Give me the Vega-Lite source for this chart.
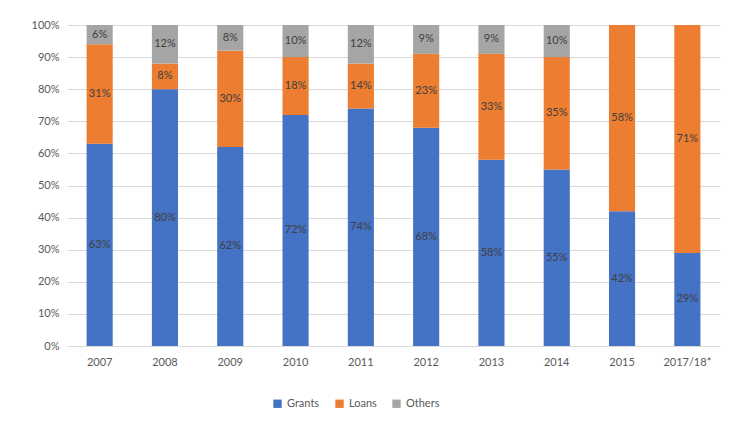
{
  "$schema": "https://vega.github.io/schema/vega-lite/v6.json",
  "width": 653,
  "height": 321,
  "autosize": {"type": "none"},
  "padding": {"left": 67, "top": 25, "right": 10, "bottom": 84},
  "background": "white",
  "config": {
    "font": "Lato",
    "view": {"stroke": null},
    "axis": {"labelFont": "Lato", "labelColor": "#595959", "labelFontSize": 11}
  },
  "data": {
    "values": [
      {"year": "2007", "type": "Grants", "value": 0.63, "ord": 1},
      {"year": "2007", "type": "Loans", "value": 0.31, "ord": 2},
      {"year": "2007", "type": "Others", "value": 0.06, "ord": 3},
      {"year": "2008", "type": "Grants", "value": 0.80, "ord": 1},
      {"year": "2008", "type": "Loans", "value": 0.08, "ord": 2},
      {"year": "2008", "type": "Others", "value": 0.12, "ord": 3},
      {"year": "2009", "type": "Grants", "value": 0.62, "ord": 1},
      {"year": "2009", "type": "Loans", "value": 0.30, "ord": 2},
      {"year": "2009", "type": "Others", "value": 0.08, "ord": 3},
      {"year": "2010", "type": "Grants", "value": 0.72, "ord": 1},
      {"year": "2010", "type": "Loans", "value": 0.18, "ord": 2},
      {"year": "2010", "type": "Others", "value": 0.10, "ord": 3},
      {"year": "2011", "type": "Grants", "value": 0.74, "ord": 1},
      {"year": "2011", "type": "Loans", "value": 0.14, "ord": 2},
      {"year": "2011", "type": "Others", "value": 0.12, "ord": 3},
      {"year": "2012", "type": "Grants", "value": 0.68, "ord": 1},
      {"year": "2012", "type": "Loans", "value": 0.23, "ord": 2},
      {"year": "2012", "type": "Others", "value": 0.09, "ord": 3},
      {"year": "2013", "type": "Grants", "value": 0.58, "ord": 1},
      {"year": "2013", "type": "Loans", "value": 0.33, "ord": 2},
      {"year": "2013", "type": "Others", "value": 0.09, "ord": 3},
      {"year": "2014", "type": "Grants", "value": 0.55, "ord": 1},
      {"year": "2014", "type": "Loans", "value": 0.35, "ord": 2},
      {"year": "2014", "type": "Others", "value": 0.10, "ord": 3},
      {"year": "2015", "type": "Grants", "value": 0.42, "ord": 1},
      {"year": "2015", "type": "Loans", "value": 0.58, "ord": 2},
      {"year": "2017/18*", "type": "Grants", "value": 0.29, "ord": 1},
      {"year": "2017/18*", "type": "Loans", "value": 0.71, "ord": 2}
    ]
  },
  "transform": [
    {"stack": "value", "groupby": ["year"], "sort": [{"field": "ord", "order": "ascending"}], "as": ["y0", "y1"]},
    {"calculate": "(datum.y0 + datum.y1) / 2", "as": "ymid"}
  ],
  "encoding": {
    "x": {
      "field": "year", "type": "nominal", "sort": null,
      "scale": {"paddingInner": 0.6, "paddingOuter": 0.3},
      "axis": {"title": null, "labelAngle": 0, "ticks": false, "domainColor": "#D9D9D9", "labelPadding": 10}
    }
  },
  "layer": [
    {
      "mark": {"type": "bar"},
      "encoding": {
        "y": {
          "field": "y0", "type": "quantitative",
          "scale": {"domain": [0, 1], "nice": false},
          "axis": {"title": null, "format": ".0%", "values": [0,0.1,0.2,0.3,0.4,0.5,0.6,0.7,0.8,0.9,1], "labelOverlap": false, "domain": false, "ticks": false, "gridColor": "#D9D9D9", "labelPadding": 8}
        },
        "y2": {"field": "y1"},
        "color": {
          "field": "type", "type": "nominal",
          "scale": {"domain": ["Grants", "Loans", "Others"], "range": ["#4472C4", "#ED7D31", "#A5A5A5"]},
          "legend": {
            "title": null, "orient": "none", "direction": "horizontal",
            "legendX": 205, "legendY": 373,
            "symbolType": "square", "symbolSize": 70, "symbolStrokeWidth": 0,
            "labelFont": "Lato", "labelFontSize": 11, "labelColor": "#595959", "columnPadding": 14
          }
        }
      }
    },
    {
      "mark": {"type": "text", "fontSize": 11, "color": "#404040", "font": "Lato"},
      "encoding": {
        "y": {
          "field": "ymid", "type": "quantitative",
          "axis": {"title": null, "format": ".0%", "values": [0,0.1,0.2,0.3,0.4,0.5,0.6,0.7,0.8,0.9,1], "labelOverlap": false, "domain": false, "ticks": false, "gridColor": "#D9D9D9", "labelPadding": 8}
        },
        "text": {"field": "value", "type": "quantitative", "format": ".0%"}
      }
    }
  ]
}
